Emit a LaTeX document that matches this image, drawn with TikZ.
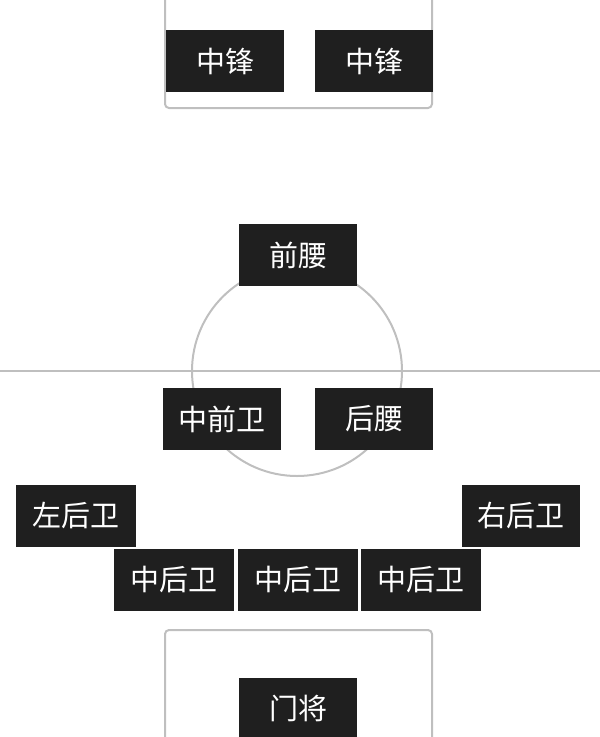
\documentclass[tikz,border=0pt]{standalone}
\usepackage{fontspec}
\setmainfont{Noto Sans CJK SC}
\begin{document}
\begin{tikzpicture}[x=1pt,y=-1pt,
  player/.style={fill=black!88,text=white,minimum width=118pt,minimum height=62pt,inner sep=0pt,font=\fontsize{29}{30}\selectfont},
  playerw/.style={player,minimum width=120pt},
  fieldline/.style={draw=black!25,line width=2pt}]
\useasboundingbox (0,0) rectangle (600,737);
\draw[fieldline,rounded corners=4pt] (165,0) -- (165,108) -- (432,108) -- (432,0);
\draw[fieldline] (0,371) -- (600,371);
\draw[fieldline] (297,371) circle (105);
\draw[fieldline,rounded corners=4pt] (165,737) -- (165,630) -- (432,630) -- (432,737);
\node[player] (cf1) at (225,61) {中锋};
\node[player] (cf2) at (374,61) {中锋};
\node[player] (am) at (298,255) {前腰};
\node[player] (cm) at (222,419) {中前卫};
\node[player] (dm) at (374,419) {后腰};
\node[playerw] (lb) at (76,516) {左后卫};
\node[player] (rb) at (521,516) {右后卫};
\node[playerw] (cb1) at (174,580) {中后卫};
\node[playerw] (cb2) at (298,580) {中后卫};
\node[playerw] (cb3) at (421,580) {中后卫};
\node[player,minimum height=60pt] (gk) at (298,708) {门将};
\end{tikzpicture}
\end{document}
